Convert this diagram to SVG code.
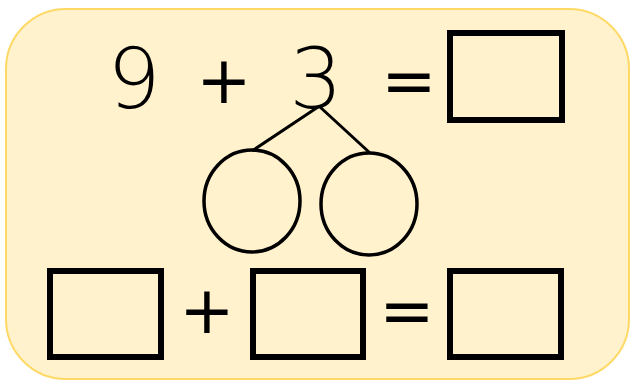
<svg xmlns="http://www.w3.org/2000/svg" width="630" height="380" viewBox="0 0 630 380">
<style>
.bg{fill:#FFF2CC;stroke:#FFD966;stroke-width:2}
.box{fill:none;stroke:#000;stroke-width:6}
.c{fill:none;stroke:#000;stroke-width:3.5}
.ln{stroke:#000;stroke-width:3;fill:none}
.dg{font-family:"DejaVu Sans",sans-serif;font-weight:200;font-stretch:condensed;font-size:84px;fill:#000;text-anchor:middle}
.sy{font-family:"DejaVu Sans",sans-serif;font-size:66px;fill:#000;text-anchor:middle}
</style>
<rect class="bg" x="6" y="9" width="623" height="370" rx="60" ry="60"/>
<g id="top-eq">
<text class="dg" x="134" y="108">9</text>
<text class="sy" x="224" y="103">+</text>
<text class="dg" x="316" y="108">3</text>
<text class="sy" x="409" y="103">=</text>
</g>
<g id="box-result-top"><rect class="box" x="450" y="33" width="112" height="87"/></g>
<g id="connectors">
<line class="ln" x1="318" y1="107" x2="252" y2="151"/>
<line class="ln" x1="320" y1="107" x2="370" y2="153"/>
</g>
<g id="circle-left"><ellipse class="c" cx="252" cy="201" rx="48" ry="51"/></g>
<g id="circle-right"><ellipse class="c" cx="369" cy="204" rx="48" ry="51"/></g>
<g id="box1"><rect class="box" x="50" y="271" width="111" height="86"/></g>
<g id="plus2"><text class="sy" x="207" y="333">+</text></g>
<g id="box2"><rect class="box" x="253" y="271" width="110" height="86"/></g>
<g id="eq2"><text class="sy" x="407" y="333">=</text></g>
<g id="box3"><rect class="box" x="450" y="271" width="111" height="86"/></g>
</svg>
